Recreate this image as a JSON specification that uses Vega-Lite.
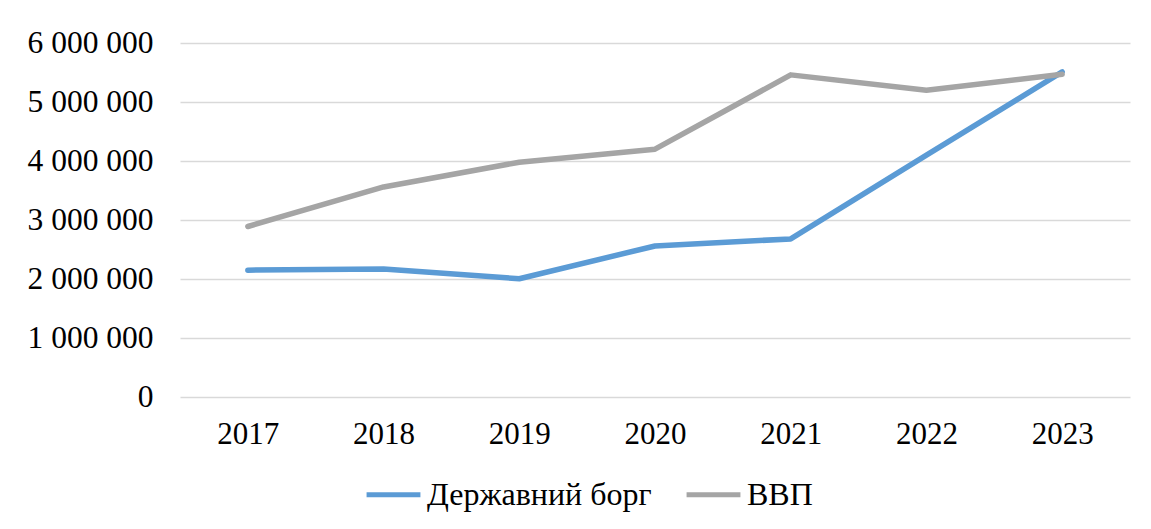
{
  "$schema": "https://vega.github.io/schema/vega-lite/v6.json",
  "width": 950,
  "height": 354,
  "autosize": {"type": "none"},
  "padding": {"left": 180, "top": 43, "right": 21, "bottom": 132},
  "background": "white",
  "config": {
    "font": "Liberation Serif",
    "view": {"stroke": null}
  },
  "data": {
    "values": [
      {"year": "2017", "series": "Державний борг", "value": 2150000},
      {"year": "2018", "series": "Державний борг", "value": 2170000},
      {"year": "2019", "series": "Державний борг", "value": 2005000},
      {"year": "2020", "series": "Державний борг", "value": 2560000},
      {"year": "2021", "series": "Державний борг", "value": 2680000},
      {"year": "2022", "series": "Державний борг", "value": 4100000},
      {"year": "2023", "series": "Державний борг", "value": 5510000},
      {"year": "2017", "series": "ВВП", "value": 2890000},
      {"year": "2018", "series": "ВВП", "value": 3560000},
      {"year": "2019", "series": "ВВП", "value": 3980000},
      {"year": "2020", "series": "ВВП", "value": 4200000},
      {"year": "2021", "series": "ВВП", "value": 5460000},
      {"year": "2022", "series": "ВВП", "value": 5200000},
      {"year": "2023", "series": "ВВП", "value": 5470000}
    ]
  },
  "mark": {"type": "line", "strokeWidth": 5.5, "strokeCap": "round", "strokeJoin": "round"},
  "encoding": {
    "x": {
      "field": "year", "type": "ordinal",
      "scale": {"type": "point", "padding": 0.5},
      "axis": {
        "title": null, "labelAngle": 0, "ticks": false, "domain": false, "grid": false,
        "labelFontSize": 31, "labelColor": "#000000", "labelPadding": 22
      }
    },
    "y": {
      "field": "value", "type": "quantitative",
      "scale": {"domain": [0, 6000000], "nice": false},
      "axis": {
        "title": null, "values": [0, 1000000, 2000000, 3000000, 4000000, 5000000, 6000000],
        "labelExpr": "replace(format(datum.value, ',d'), /,/g, ' ')",
        "labelOverlap": false,
        "ticks": false, "domain": false, "grid": true, "gridColor": "#D9D9D9", "gridWidth": 1.5,
        "labelFontSize": 31.5, "labelColor": "#000000", "labelPadding": 27
      }
    },
    "color": {
      "field": "series", "type": "nominal",
      "scale": {"domain": ["Державний борг", "ВВП"], "range": ["#5B9BD5", "#A5A5A5"]},
      "legend": {
        "title": null, "orient": "none", "direction": "horizontal",
        "legendX": 184, "legendY": 422,
        "symbolType": "stroke", "symbolSize": 2900, "symbolStrokeWidth": 5,
        "labelFontSize": 32, "labelColor": "#000000", "labelOffset": 4, "labelLimit": 0,
        "columnPadding": 24
      }
    },
    "order": {"field": "year"}
  }
}
